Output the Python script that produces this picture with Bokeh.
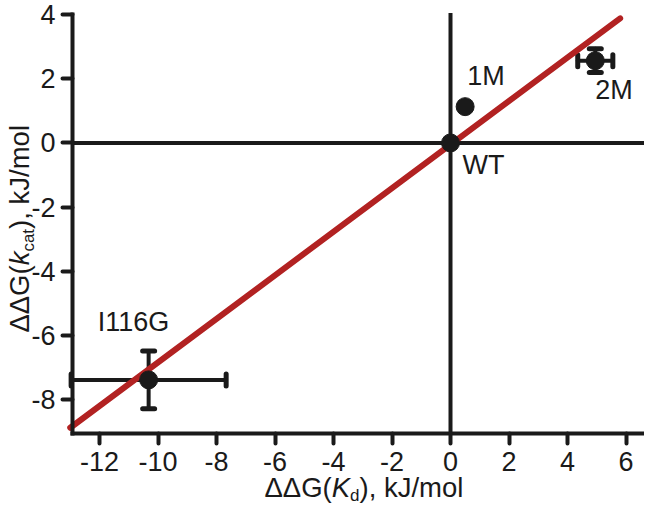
from bokeh.plotting import figure
from bokeh.models import (Range1d, FixedTicker, Whisker, ColumnDataSource, Label, LinearAxis)
from bokeh.embed import file_html
from bokeh.resources import INLINE

# ---------------- data ----------------
names = ["WT", "1M", "2M", "I116G"]
ddg_kd = [0.0, 0.5, 4.95, -10.32]        # x: ΔΔG(Kd), kJ/mol
ddg_kcat = [0.0, 1.13, 2.56, -7.38]      # y: ΔΔG(kcat), kJ/mol
err_kd = [0.0, 0.0, 0.6, 2.65]
err_kcat = [0.0, 0.0, 0.37, 0.9]
fit_x = [-13.0, 5.8]
fit_y = [-8.87, 3.88]
x_ticks = [-12, -10, -8, -6, -4, -2, 0, 2, 4, 6]
y_ticks = [-8, -6, -4, -2, 0, 2, 4]
x_tick_labels = ["-12", "-10", "-8", "-6", "-4", "-2", "0", "2", "4", "6"]
y_tick_labels = ["-8", "-6", "-4", "-2", "0", "2", "4"]
x_axis_min, x_axis_max = -12.92, 7.0
y_axis_min, y_axis_max = -9.05, 4.05

# ---------------- style / layout ----------------
BLK = "#1a1a1a"
RED = "#B22222"
FONT = "Liberation Sans"
F = 27      # main font px
FT = 27.5   # axis title font px
S = 17      # subscript font px
BASE_SHIFT = 0.39   # Label anchor sits this many em above the glyph baseline

W, H = 644, 508
X0_PX = 450          # canvas x of data x = 0
XSCALE = 29.25       # px per unit
Y4_PX = 14           # canvas y of data y = 4
AXIS_PX = 433        # canvas y of bottom axis (y = y_axis_min)
YSCALE = (AXIS_PX - Y4_PX) / (4 - y_axis_min)

x_lo = -X0_PX / XSCALE
x_hi = (W - X0_PX) / XSCALE
y_hi = 4 + Y4_PX / YSCALE
y_lo = 4 - (H - Y4_PX) / YSCALE

p = figure(width=W, height=H, output_backend="svg", toolbar_location=None,
           x_range=Range1d(x_lo, x_hi), y_range=Range1d(y_lo, y_hi),
           x_axis_location=None, y_axis_location=None,
           min_border_left=0, min_border_right=0, min_border_top=0, min_border_bottom=0)
p.outline_line_color = None
p.grid.visible = False
p.background_fill_color = "white"
p.border_fill_color = "white"

xa = LinearAxis(fixed_location=y_axis_min, bounds=(x_axis_min, x_axis_max))
ya = LinearAxis(fixed_location=x_axis_min, bounds=(y_axis_min, 4.0))
p.add_layout(xa, "below")
p.add_layout(ya, "left")

for ax, ticks, labels in ((xa, x_ticks, x_tick_labels), (ya, y_ticks, y_tick_labels)):
    ax.ticker = FixedTicker(ticks=ticks)
    ax.major_label_overrides = {t: l for t, l in zip(ticks, labels)}
    ax.axis_line_width = 4
    ax.axis_line_color = BLK
    ax.axis_line_cap = "square"
    ax.major_tick_line_width = 4
    ax.major_tick_line_color = BLK
    ax.major_tick_line_cap = "round"
    ax.major_tick_out = 10
    ax.major_tick_in = 0
    ax.minor_tick_line_color = None
    ax.major_label_text_font = FONT
    ax.major_label_text_font_size = f"{F}px"
    ax.major_label_text_color = BLK
    ax.axis_label = None
xa.major_label_standoff = 8
ya.major_label_standoff = 7

# zero reference lines (bounded by the axes)
p.line([0, 0], [y_axis_min, y_axis_max], line_color=BLK, line_width=4)
p.line([x_axis_min, x_axis_max], [0, 0], line_color=BLK, line_width=4)

# error bars
idx = [i for i in range(len(names)) if err_kd[i] > 0 or err_kcat[i] > 0]
src = ColumnDataSource(dict(
    x=[ddg_kd[i] for i in idx], y=[ddg_kcat[i] for i in idx],
    xl=[ddg_kd[i] - err_kd[i] for i in idx], xu=[ddg_kd[i] + err_kd[i] for i in idx],
    yl=[ddg_kcat[i] - err_kcat[i] for i in idx], yu=[ddg_kcat[i] + err_kcat[i] for i in idx],
))
for dim, base, lo, up in (("width", "y", "xl", "xu"), ("height", "x", "yl", "yu")):
    wk = Whisker(source=src, base=base, lower=lo, upper=up, dimension=dim,
                 line_color=BLK, line_width=4, line_cap="round", level="underlay")
    for head in (wk.upper_head, wk.lower_head):
        head.size = 12
        head.line_width = 5
        head.line_color = BLK
        head.line_cap = "round"
    p.add_layout(wk)

# fit line
p.line(fit_x, fit_y, line_width=6, line_color=RED, line_cap="round")

# points
p.scatter(ddg_kd, ddg_kcat, size=18, color=BLK, line_color=BLK)

# point labels: pixel offsets of the text baseline-left from each point
offsets = {"WT": (12, -33), "1M": (2, 20), "2M": (0, -40), "I116G": (-51, 47)}
for n, xv, yv in zip(names, ddg_kd, ddg_kcat):
    dx, dy = offsets[n]
    p.add_layout(Label(x=xv, y=yv, x_offset=dx, y_offset=dy + BASE_SHIFT * F, text=n,
                       text_font=FONT, text_font_size=f"{F}px", text_color=BLK,
                       text_align="left", text_baseline="alphabetic"))

# axis titles composed from pieces (Arial metrics)
ADV = {"Δ": 668, "G": 778, "(": 333, ")": 333, "K": 667, "k": 500, "c": 500, "a": 556,
       "t": 278, "d": 556, ",": 278, " ": 278, "J": 500, "/": 278, "m": 833, "o": 556, "l": 222}


def width(s, size):
    return sum(ADV[ch] for ch in s) / 1000.0 * size


def compose(pieces):
    total = sum(width(t, sz) for t, sz, _, _ in pieces)
    pos = -total / 2.0
    out = []
    for t, sz, st, sub in pieces:
        out.append((t, sz, st, sub, pos))
        pos += width(t, sz)
    return out


x_center = (x_axis_min + x_axis_max) / 2
y_center = (y_axis_min + 4.0) / 2 - 0.15

# x title: baseline 65 px below the axis, subscript 4 px lower
x_pieces = compose([("ΔΔG(", FT, "normal", False), ("K", FT, "italic", False),
                    ("d", S, "normal", True), ("), kJ/mol", FT, "normal", False)])
for t, sz, st, sub, pos in x_pieces:
    base = -65 - (4 if sub else 0)
    p.add_layout(Label(x=x_center, y=y_axis_min, x_offset=pos,
                       y_offset=base + BASE_SHIFT * sz, text=t, text_font=FONT,
                       text_font_size=f"{sz}px", text_font_style=st, text_color=BLK,
                       text_align="left", text_baseline="alphabetic"))

# y title (rotated): baseline 42 px left of the axis, subscript 5 px towards the axis
y_pieces = compose([("ΔΔG(", FT, "normal", False), ("k", FT, "italic", False),
                    ("cat", S, "normal", True), ("), kJ/mol", FT, "normal", False)])
for t, sz, st, sub, pos in y_pieces:
    base = -42 + (5 if sub else 0)
    p.add_layout(Label(x=x_axis_min, y=y_center, x_offset=base - BASE_SHIFT * sz,
                       y_offset=pos, angle=1.5707963267948966, text=t, text_font=FONT,
                       text_font_size=f"{sz}px", text_font_style=st, text_color=BLK,
                       text_align="left", text_baseline="alphabetic"))

open("out.html", "w").write(file_html(p, INLINE))
